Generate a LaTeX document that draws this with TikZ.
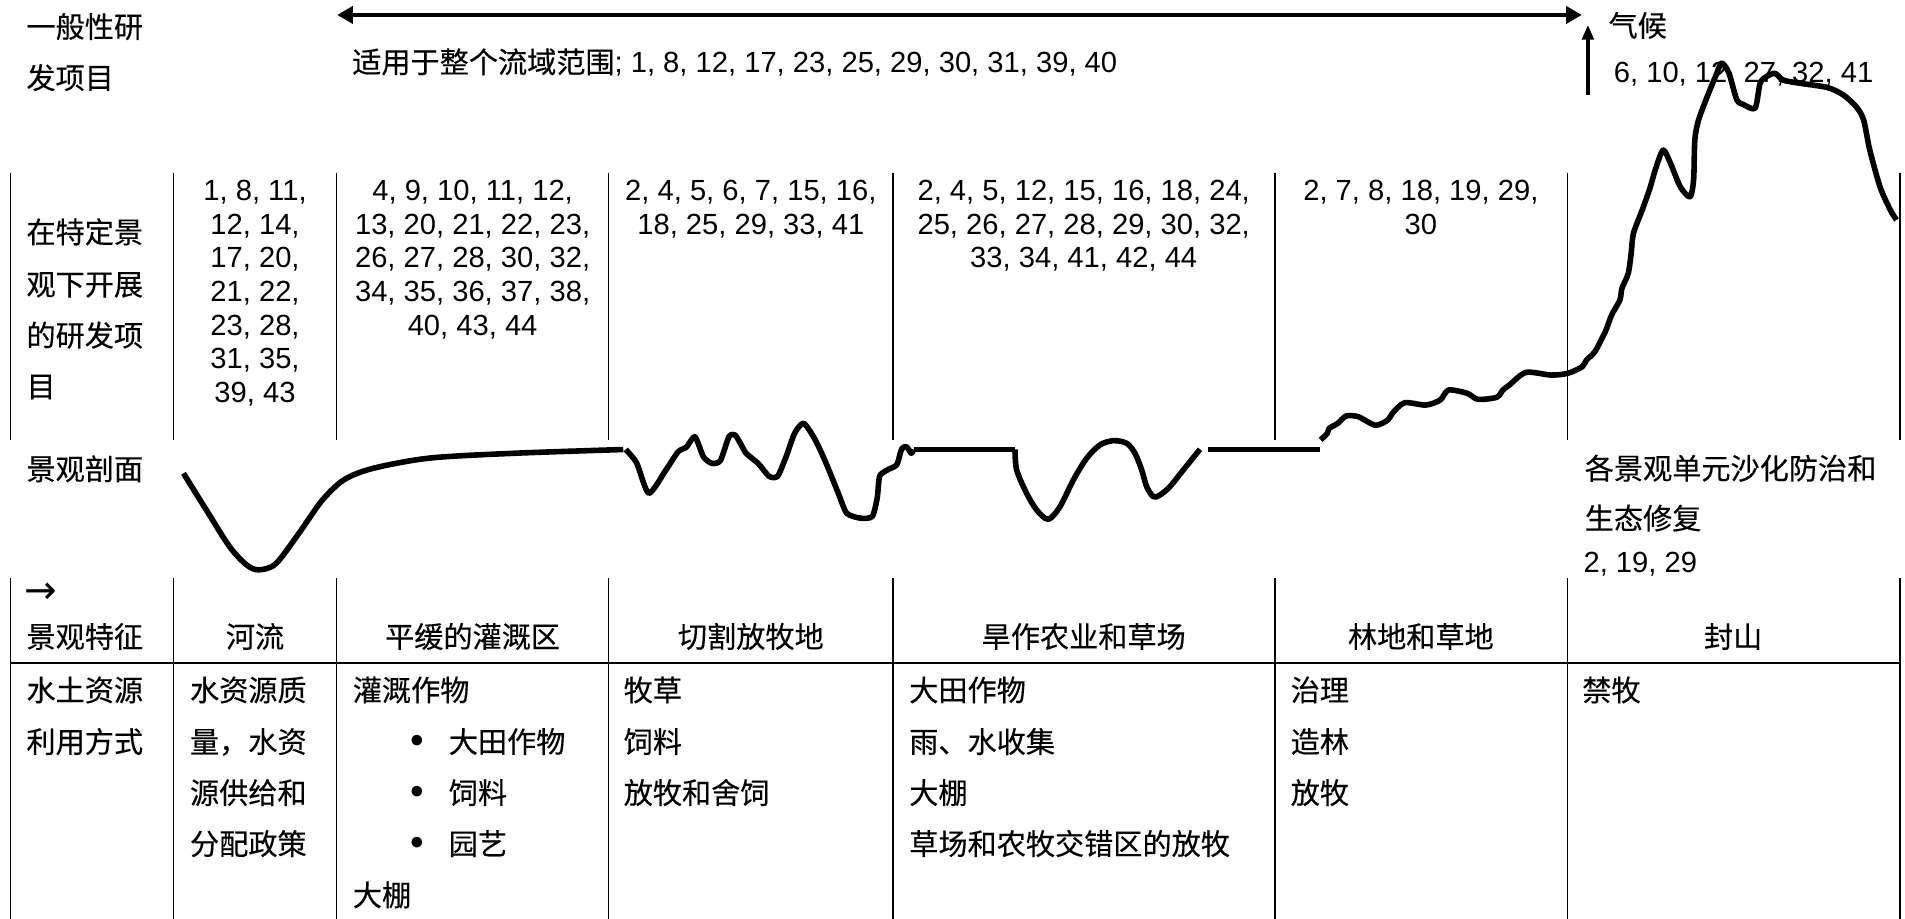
\documentclass[tikz,border=0pt]{standalone}
\usepackage{fontspec}
\setmainfont{Liberation Sans}
\newfontfamily\cjk[FakeBold=0.3]{Noto Sans CJK SC}
\newfontfamily\symb{DejaVu Sans}
\usetikzlibrary{arrows.meta}
\begin{document}
\begin{tikzpicture}[x=0.5pt,y=-0.5pt,
  txt/.style={inner sep=0pt, font=\fontsize{12pt}{14pt}\selectfont},
  lt/.style={txt, anchor=base west},
  ct/.style={txt, anchor=base},
  bul/.style={inner sep=0pt, anchor=base, font=\fontsize{16pt}{16pt}\selectfont},
  grid/.style={line width=0.6pt},
  rule/.style={line width=0.85pt},
  profile/.style={line width=2.3pt, line join=round},
]
\useasboundingbox (0,0) rectangle (1568,756);

% ---------- general projects (whole basin) ----------
\coordinate (aL) at (277.5,12.3);
\coordinate (aR) at (1302,12.3);
\draw[line width=1.65pt, {Triangle[length=6.5pt,width=7pt]}-{Triangle[length=6.5pt,width=7pt]}] (aL) -- (aR);
\coordinate (vB) at (1307,78.2);
\coordinate (vT) at (1307,20.6);
\draw[line width=1.4pt, -{Triangle[length=6pt,width=4.8pt]}] (vB) -- (vT);

\node[lt] (gen1) at (21.4,31) {\cjk 一般性研};
\node[lt] (gen2) at (21.4,73) {\cjk 发项目};
\node[lt] (whole) at (289.5,60) {{\cjk 适用于整个流域范围}; 1, 8, 12, 17, 23, 25, 29, 30, 31, 39, 40};
\node[lt] (clim) at (1323.6,30) {\cjk 气候};
\node[lt] (climn) at (1328,68) {6, 10, 12, 27, 32, 41};

% ---------- table grid ----------
\foreach \x in {8.5,143,277,501,735,1049.5,1290,1564} {
  \draw[grid] (\x,142) -- (\x,362);
  \draw[grid] (\x,476) -- (\x,756);
}
\draw[rule] (8.5,545.5) -- (1564,545.5);

% ---------- projects per landscape unit ----------
\node[lt] (sp1) at (21.4,200) {\cjk 在特定景};
\node[lt] (sp2) at (21.4,243) {\cjk 观下开展};
\node[lt] (sp3) at (21.4,285) {\cjk 的研发项};
\node[lt] (sp4) at (21.4,327) {\cjk 目};

\foreach \t [count=\i] in {{1, 8, 11,},{12, 14,},{17, 20,},{21, 22,},{23, 28,},{31, 35,},{39, 43}}
  \node[ct] (pa\i) at (209.9,{165.2+27.67*(\i-1)}) {\t};
\foreach \t [count=\i] in {{4, 9, 10, 11, 12,},{13, 20, 21, 22, 23,},{26, 27, 28, 30, 32,},{34, 35, 36, 37, 38,},{40, 43, 44}}
  \node[ct] (pb\i) at (389,{165.2+27.67*(\i-1)}) {\t};
\foreach \t [count=\i] in {{2, 4, 5, 6, 7, 15, 16,},{18, 25, 29, 33, 41}}
  \node[ct] (pc\i) at (618,{165.2+27.67*(\i-1)}) {\t};
\foreach \t [count=\i] in {{2, 4, 5, 12, 15, 16, 18, 24,},{25, 26, 27, 28, 29, 30, 32,},{33, 34, 41, 42, 44}}
  \node[ct] (pd\i) at (892,{165.2+27.67*(\i-1)}) {\t};
\foreach \t [count=\i] in {{2, 7, 8, 18, 19, 29,},{30}}
  \node[ct] (pe\i) at (1169.5,{165.2+27.67*(\i-1)}) {\t};

% ---------- landscape profile ----------
\node[lt] (prof) at (21.4,395) {\cjk 景观剖面};
\node[lt] (des1) at (1304,394.5) {\cjk 各景观单元沙化防治和};
\node[lt] (des2) at (1304,435.6) {\cjk 生态修复};
\node[lt] (des3) at (1303,471) {2, 19, 29};

% river valley and gentle irrigated plain
\draw[profile] plot[smooth,tension=0.5] coordinates {
  (151,389.6) (170,420) (189,450) (203,465) (213,469) (227,464) (246,439)
  (265,412) (283,395) (307,385.5) (354,377) (425,373) (513,370)};
% dissected grazing land and rain-fed farmland
\draw[profile] plot[smooth,tension=0.4] coordinates {
  (515,370) (524,381) (534,406) (548,387) (558,372) (565,368) (572,359.5)
  (579,376) (586,381.4) (593,379) (600,359.4) (605,358) (609.5,365) (614,373)
  (624,381.4) (633,392) (640,392) (647,376) (654,356.7) (661.5,348.4) (671,362)
  (680,381.4) (690,406) (697,422.5) (709,426.6) (718,425) (722,410) (724,392)
  (730,387) (738,382.7) (741,373) (742.5,369) (746,367.6) (750,373) (752,370)};
\draw[profile] (752,370) -- (835.4,370);
\draw[profile] plot[smooth,tension=0.5] coordinates {
  (835.4,369.8) (836.8,386.8) (845,406) (853.3,419.8) (862.9,427.4) (872.5,417)
  (883.5,395) (894.4,377.2) (905.4,366.2) (916.4,362.7) (927.4,364.9) (934.2,373.1)
  (939.7,386.8) (943.8,400.5) (949.3,408.8) (954.8,407.4) (963,400.5) (974,386.8)
  (987.7,369.8)};
\draw[profile] (994,370) -- (1086.5,370);
% forest slopes and closed mountains
\draw[profile] plot[smooth,tension=0.45] coordinates {
  (1087,362) (1092.5,356.7) (1094,352.6) (1101,348.5) (1108,342.4) (1118,343)
  (1132,350) (1142.4,345.7) (1146,340.2) (1156,331.5) (1173.4,333.4) (1185.4,329.3)
  (1192.3,321) (1207.8,323.8) (1216.4,328.7) (1231.9,327) (1237,321) (1242.2,317)
  (1256,306.5) (1276.6,308.7) (1290.3,307.3) (1302.4,301.8) (1305.8,296.3)
  (1312.7,289.5) (1321.3,273) (1326.5,259.3) (1333.3,247) (1335,237.3)
  (1340.2,225) (1342.6,208.5) (1344.5,192) (1352,172) (1358,155) (1363,138)
  (1369,123.5) (1375,134.5) (1383,153.7) (1391,162) (1394,148) (1395,115)
  (1398,99) (1405,80) (1412,63) (1417,52) (1423,60) (1429.5,82) (1435,86)
  (1444.6,89) (1448.7,68.6) (1454,63) (1461,60.4) (1468,66) (1482,68.6)
  (1504,72) (1517,78) (1528,88) (1534,99) (1539,123.5) (1547.5,154)
  (1556,173) (1561,181)};

% ---------- landscape features ----------
\node[inner sep=0pt, anchor=base west, font=\fontsize{16pt}{16pt}\selectfont] (arr) at (20,497) {\symb →};
\node[lt] (feat) at (21.4,533) {\cjk 景观特征};
\node[ct] (h1) at (209.9,533) {\cjk 河流};
\node[ct] (h2) at (389,533) {\cjk 平缓的灌溉区};
\node[ct] (h3) at (618,533) {\cjk 切割放牧地};
\node[ct] (h4) at (892,533) {\cjk 旱作农业和草场};
\node[ct] (h5) at (1169.5,533) {\cjk 林地和草地};
\node[ct] (h6) at (1426.5,533) {\cjk 封山};

% ---------- land and water use ----------
\node[lt] (use1) at (21.4,577) {\cjk 水土资源};
\node[lt] (use2) at (21.4,619.5) {\cjk 利用方式};

\node[lt] (ra1) at (156,577) {\cjk 水资源质};
\node[lt] (ra2) at (156,619.5) {\cjk 量，水资};
\node[lt] (ra3) at (156,661.5) {\cjk 源供给和};
\node[lt] (ra4) at (156,703.5) {\cjk 分配政策};

\node[lt] (ia0) at (290,577) {\cjk 灌溉作物};
\node[bul] (ib1) at (343.5,620.5) {•};
\node[lt] (ia1) at (369,619.5) {\cjk 大田作物};
\node[bul] (ib2) at (343.5,662.5) {•};
\node[lt] (ia2) at (369,661.5) {\cjk 饲料};
\node[bul] (ib3) at (343.5,704.5) {•};
\node[lt] (ia3) at (369,703.5) {\cjk 园艺};
\node[lt] (ia4) at (290,745.7) {\cjk 大棚};

\node[lt] (ga1) at (513,577) {\cjk 牧草};
\node[lt] (ga2) at (513,619.5) {\cjk 饲料};
\node[lt] (ga3) at (513,661.5) {\cjk 放牧和舍饲};

\node[lt] (da1) at (748,577) {\cjk 大田作物};
\node[lt] (da2) at (748,619.5) {\cjk 雨、水收集};
\node[lt] (da3) at (748,661.5) {\cjk 大棚};
\node[lt] (da4) at (748,703.5) {\cjk 草场和农牧交错区的放牧};

\node[lt] (fa1) at (1062,577) {\cjk 治理};
\node[lt] (fa2) at (1062,619.5) {\cjk 造林};
\node[lt] (fa3) at (1062,661.5) {\cjk 放牧};

\node[lt] (ma1) at (1302,577) {\cjk 禁牧};
\end{tikzpicture}
\end{document}
